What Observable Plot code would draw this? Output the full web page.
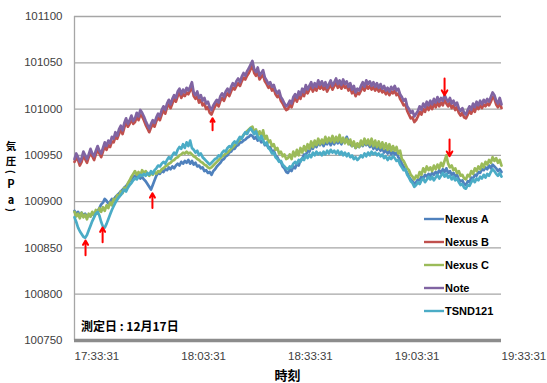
<!DOCTYPE html>
<html>
<head>
<meta charset="utf-8">
<script src="https://cdn.jsdelivr.net/npm/d3@7"></script>
<script src="https://cdn.jsdelivr.net/npm/@observablehq/plot@0.6"></script>
<style>
  html, body { margin: 0; padding: 0; background: #fff; }
  #chart svg { display: block; }
</style>
</head>
<body>
<div id="chart"></div>
<script>
// Barometric pressure (Pa) sampled every 30 s from 17:33:31 to 19:33:31
const seriesNames = ["Nexus A", "Nexus B", "Nexus C", "Note", "TSND121"];
const seriesColors = ["#4F81BD", "#C0504D", "#9BBB59", "#8064A2", "#4BACC6"];
const timeTickMinutes = [0, 30, 60, 90, 120];
const timeTickLabels = ["17:33:31", "18:03:31", "18:33:31", "19:03:31", "19:33:31"];
const pressureTicks = [100750, 100800, 100850, 100900, 100950, 101000, 101050, 101100];
const sampleStepMinutes = 0.5;

const nexusA = [
  100890,100886,100889,100884,100888,100885,100887,100883,100886,100884,100888,100885,100887,100890,100893,100897,100899,100903,100901,100898,
  100900,100903,100902,100905,100907,100909,100911,100913,100915,100917,100919,100922,100924,100927,100928,100926,100928,100925,100927,100924,
  100922,100919,100916,100913,100918,100923,100928,100931,100930,100933,100932,100935,100934,100937,100935,100938,100936,100939,100941,100939,
  100943,100941,100944,100942,100945,100941,100944,100940,100942,100938,100939,100936,100937,100933,100934,100931,100932,100929,100933,100935,
  100938,100940,100942,100945,100946,100949,100950,100953,100954,100957,100957,100960,100961,100964,100964,100966,100967,100969,100970,100972,
  100971,100968,100970,100966,100968,100964,100966,100961,100962,100958,100959,100954,100955,100950,100948,100944,100943,100938,100936,100932,
  100931,100935,100933,100938,100936,100941,100939,100945,100946,100951,100950,100955,100954,100959,100957,100962,100959,100964,100961,100965,
  100960,100964,100962,100966,100961,100965,100962,100967,100963,100966,100962,100967,100964,100970,100965,100962,100960,100963,100958,100961,
  100959,100963,100960,100964,100961,100963,100959,100962,100957,100960,100956,100959,100955,100958,100953,100956,100952,100955,100951,100954,
  100951,100953,100948,100946,100941,100938,100934,100931,100927,100924,100922,100919,100921,100924,100923,100927,100925,100929,100927,100930,
  100928,100931,100929,100932,100930,100934,100931,100935,100932,100936,100931,100933,100929,100931,100927,100929,100924,100922,100923,100919,
  100918,100922,100921,100926,100925,100929,100928,100932,100931,100935,100934,100937,100935,100939,100936,100940,100938,100936,100933,100935,
  100932
];
const nexusB = [
  100943,100947,100945,100939,100943,100950,100946,100942,100948,100952,100949,100945,100951,100956,100952,100948,100954,100960,100956,100961,
  100959,100965,100964,100970,100968,100973,100978,100973,100980,100986,100981,100984,100989,100984,100986,100992,100988,100994,100992,100988,
  100983,100979,100975,100980,100984,100981,100987,100991,100988,100994,100999,100995,101002,101005,101001,101006,101011,101008,101014,101018,
  101012,101016,101014,101018,101016,101020,101024,101014,101011,101014,101007,101010,101004,101006,101000,101002,100996,100994,100999,101003,
  101006,101003,101009,101012,101009,101014,101017,101014,101019,101023,101021,101025,101028,101025,101030,101034,101032,101036,101039,101043,
  101047,101039,101036,101040,101032,101035,101037,101030,101027,101023,101025,101020,101022,101016,101013,101015,101009,101006,101002,100999,
  101000,101005,101002,101008,101012,101008,101014,101011,101017,101014,101021,101017,101021,101024,101019,101023,101020,101026,101022,101025,
  101021,101024,101019,101023,101026,101021,101025,101028,101023,101026,101022,101027,101023,101025,101020,101023,101017,101020,101014,101018,
  101016,101020,101024,101020,101026,101022,101025,101021,101024,101020,101023,101019,101022,101018,101020,101016,101019,101015,101019,101017,
  101020,101015,101017,101011,101008,101004,101005,100998,100994,100990,100991,100986,100988,100992,100997,100994,101000,100997,101003,100999,
  101004,101000,101006,101002,101008,101003,101007,101004,101010,101006,101003,101007,101001,101004,100999,101002,100996,100993,100996,100991,
  100990,100994,100998,100995,101001,100997,101003,101000,101004,101001,101005,101003,101006,101004,101008,101013,101011,101005,101002,101007,
  101001
];
const nexusC = [
  100889,100884,100887,100882,100888,100883,100886,100881,100887,100884,100889,100885,100891,100887,100893,100889,100894,100890,100896,100893,
  100899,100896,100903,100900,100907,100905,100911,100909,100915,100913,100920,100923,100927,100930,100933,100929,100932,100928,100934,100931,
  100933,100930,100928,100931,100929,100932,100930,100933,100932,100935,100936,100938,100939,100941,100942,100944,100945,100947,100948,100950,
  100951,100953,100952,100954,100952,100953,100951,100949,100948,100946,100945,100943,100942,100940,100939,100937,100936,100937,100939,100941,
  100943,100945,100947,100949,100950,100952,100953,100955,100957,100959,100961,100963,100965,100967,100969,100972,100974,100976,100978,100980,
  100981,100975,100978,100972,100976,100970,100977,100968,100971,100964,100966,100960,100962,100956,100958,100952,100954,100949,100951,100946,
  100947,100951,100946,100954,100949,100956,100950,100958,100953,100960,100955,100962,100957,100965,100959,100966,100961,100968,100962,100967,
  100963,100970,100964,100969,100965,100971,100964,100970,100965,100972,100964,100969,100963,100968,100962,100967,100960,100965,100958,100963,
  100959,100966,100961,100968,100962,100967,100961,100968,100960,100966,100959,100965,100958,100964,100957,100963,100956,100962,100955,100960,
  100955,100959,100952,100955,100946,100944,100940,100936,100934,100929,100927,100924,100928,100926,100932,100929,100936,100932,100938,100934,
  100937,100933,100939,100935,100940,100936,100942,100938,100944,100950,100941,100937,100939,100934,100936,100931,100933,100928,100929,100925,
  100924,100929,100927,100933,100930,100936,100933,100938,100935,100941,100937,100943,100940,100945,100942,100948,100944,100947,100942,100945,
  100939
];
const note = [
  100946,100952,100948,100943,100947,100954,100950,100946,100951,100957,100952,100949,100955,100960,100955,100952,100958,100964,100960,100966,
  100963,100970,100968,100975,100971,100978,100982,100977,100985,100990,100984,100988,100993,100987,100990,100996,100992,100999,100996,100992,
  100987,100983,100979,100984,100988,100985,100991,100995,100992,100999,101003,100999,101006,101010,101005,101011,101015,101012,101019,101022,
  101016,101021,101018,101023,101020,101024,101029,101018,101015,101019,101012,101015,101009,101012,101006,101008,101002,100999,101004,101007,
  101010,101007,101014,101017,101013,101019,101022,101018,101024,101028,101025,101030,101033,101029,101035,101039,101036,101041,101044,101048,
  101052,101043,101040,101045,101036,101039,101042,101034,101031,101027,101029,101024,101026,101020,101017,101020,101013,101010,101006,101003,
  101005,101009,101006,101013,101016,101012,101019,101015,101022,101018,101026,101021,101025,101029,101023,101028,101024,101031,101026,101030,
  101025,101029,101023,101027,101031,101025,101029,101033,101027,101031,101026,101032,101027,101030,101024,101028,101021,101025,101018,101022,
  101020,101025,101029,101024,101031,101027,101030,101025,101029,101024,101028,101023,101027,101022,101025,101020,101023,101019,101024,101021,
  101025,101020,101022,101016,101013,101009,101011,101003,101000,100996,100998,100992,100995,100998,101003,100999,101006,101002,101008,101004,
  101009,101005,101011,101007,101013,101008,101012,101009,101015,101011,101008,101012,101006,101009,101004,101007,101001,100998,101001,100996,
  100994,100999,101003,100999,101006,101002,101008,101004,101009,101005,101010,101007,101011,101008,101013,101018,101015,101009,101006,101012,
  101005
];
const tsnd121 = [
  100883,100878,100872,100868,100865,100862,100861,100864,100869,100874,100879,100883,100887,100889,100885,100878,100873,100872,100876,100881,
  100886,100891,100895,100899,100902,100905,100907,100910,100913,100911,100915,100918,100920,100923,100925,100924,100927,100929,100928,100930,
  100928,100931,100929,100933,100930,100934,100936,100939,100938,100941,100943,100941,100945,100948,100946,100950,100953,100951,100956,100959,
  100957,100962,100958,100964,100960,100966,100958,100956,100953,100955,100950,100952,100948,100946,100944,100942,100940,100942,100944,100946,
  100947,100950,100949,100953,100955,100954,100958,100960,100959,100963,100965,100963,100967,100970,100968,100972,100975,100973,100977,100979,
  100976,100973,100976,100970,100967,100971,100966,100962,100964,100958,100956,100952,100953,100948,100946,100943,100944,100940,100938,100936,
  100935,100938,100937,100941,100943,100941,100945,100943,100947,100945,100950,100947,100951,100948,100953,100950,100954,100951,100953,100950,
  100954,100951,100955,100952,100956,100953,100955,100952,100955,100951,100954,100950,100953,100949,100952,100948,100950,100946,100948,100945,
  100947,100950,100948,100952,100949,100953,100950,100954,100951,100953,100950,100952,100949,100951,100947,100949,100945,100948,100946,100949,
  100947,100944,100945,100940,100937,100934,100935,100929,100926,100922,100920,100916,100918,100921,100919,100923,100925,100921,100924,100927,
  100924,100927,100923,100926,100929,100925,100928,100931,100927,100930,100926,100928,100924,100927,100923,100925,100921,100918,100919,100915,
  100914,100918,100917,100921,100924,100921,100925,100923,100927,100925,100929,100926,100930,100928,100932,100935,100933,100930,100928,100931,
  100927
];

// Red arrows pointing at notable dips and peaks: minute, tail pressure, tip pressure
const arrowMinutes = [3.1, 7.9, 21.9, 38.8, 104.0, 105.4];
const arrowTails   = [100842, 100856, 100893, 100977, 101033, 100967];
const arrowTips    = [100858, 100872, 100909, 100990, 101015, 100949];

const allSeries = [nexusA, nexusB, nexusC, note, tsnd121];

const tables = allSeries.map((vals, si) =>
  vals.map((v, i) => ({minute: i * sampleStepMinutes, pressure: v, series: seriesNames[si]})));

const arrows = arrowMinutes.map((m, i) => ({minute: m, tail: arrowTails[i], tip: arrowTips[i]}));

const W = 547, H = 383;
const gridColor = "#a6a6a6";
const font = "'Liberation Sans', Arial, sans-serif";
const cjkFont = "'Noto Sans CJK JP', sans-serif";

const chart = Plot.plot({
  width: W,
  height: H,
  marginLeft: 74,
  marginRight: 46,
  marginTop: 16,
  marginBottom: 43,
  style: {fontFamily: font, fontSize: "11.5px", color: "#404040", background: "#fff"},
  x: {domain: [0, 120]},
  y: {domain: [100750, 101100]},
  marks: [
    Plot.ruleY(pressureTicks.slice(1), {stroke: gridColor, strokeWidth: 1.3}),
    Plot.ruleX([0], {stroke: gridColor, strokeWidth: 1.3}),
    ...tables.map((t, si) => Plot.line(t, {
      x: "minute", y: "pressure",
      stroke: seriesColors[si], strokeWidth: 2.7, strokeLinejoin: "round"
    })),
    Plot.arrow(arrows, {
      x1: "minute", y1: "tail", x2: "minute", y2: "tip",
      stroke: "#FF0000", strokeWidth: 2, headLength: 8, bend: 0
    }),
    Plot.ruleY([100750], {stroke: "#8c8c8c", strokeWidth: 3.5}),
    Plot.axisY({
      ticks: pressureTicks, tickSize: 0, tickPadding: 12, label: null,
      tickFormat: d => String(d), fill: "#404040"
    }),
    Plot.axisX({
      ticks: timeTickMinutes, tickSize: 0, tickPadding: 11, label: null,
      tickFormat: d => timeTickLabels[timeTickMinutes.indexOf(d)],
      textAnchor: "start", fill: "#404040"
    })
  ]
});

document.getElementById("chart").appendChild(chart);

const svg = d3.select(chart);

// Legend on the right of the plot area
const legend = svg.append("g")
  .attr("font-family", font).attr("font-weight", "bold").attr("font-size", 11)
  .attr("text-anchor", "start");
seriesNames.forEach((name, i) => {
  const y = 219 + i * 23;
  legend.append("line")
    .attr("x1", 424).attr("x2", 444).attr("y1", y).attr("y2", y)
    .attr("stroke", seriesColors[i]).attr("stroke-width", 2.4);
  legend.append("text")
    .attr("x", 445).attr("y", y).attr("dy", "0.36em")
    .attr("fill", "#000").text(name);
});

// Measurement date note inside the plot
svg.append("text")
  .attr("x", 81).attr("y", 331)
  .attr("text-anchor", "start")
  .attr("font-family", cjkFont)
  .attr("font-weight", "bold").attr("font-size", 12)
  .attr("fill", "#000")
  .text("測定日 : 12月17日");

// X-axis title
svg.append("text")
  .attr("x", 287.5).attr("y", 380)
  .attr("text-anchor", "middle")
  .attr("font-family", cjkFont)
  .attr("font-weight", "bold").attr("font-size", 13)
  .attr("fill", "#000")
  .text("時刻");

// Y-axis title, stacked vertically one glyph at a time; brackets turned sideways
const yTitleChars = ["気", "圧", "(", "P", "a", ")"];
const yTitleRows = [146, 161.5, 172, 184, 200, 210];
const yTitleTurned = [false, false, true, false, false, true];
const yTitleSizes = [10.5, 10.5, 10, 11, 11, 10];
const yTitle = svg.append("g")
  .attr("font-family", cjkFont)
  .attr("font-weight", "bold")
  .attr("fill", "#000").attr("text-anchor", "middle");
yTitleChars.forEach((c, i) => {
  yTitle.append("text")
    .attr("transform", `translate(11,${yTitleRows[i]})` + (yTitleTurned[i] ? " rotate(90)" : ""))
    .attr("font-size", yTitleSizes[i])
    .attr("dy", "0.36em").text(c);
});
</script>
</body>
</html>
